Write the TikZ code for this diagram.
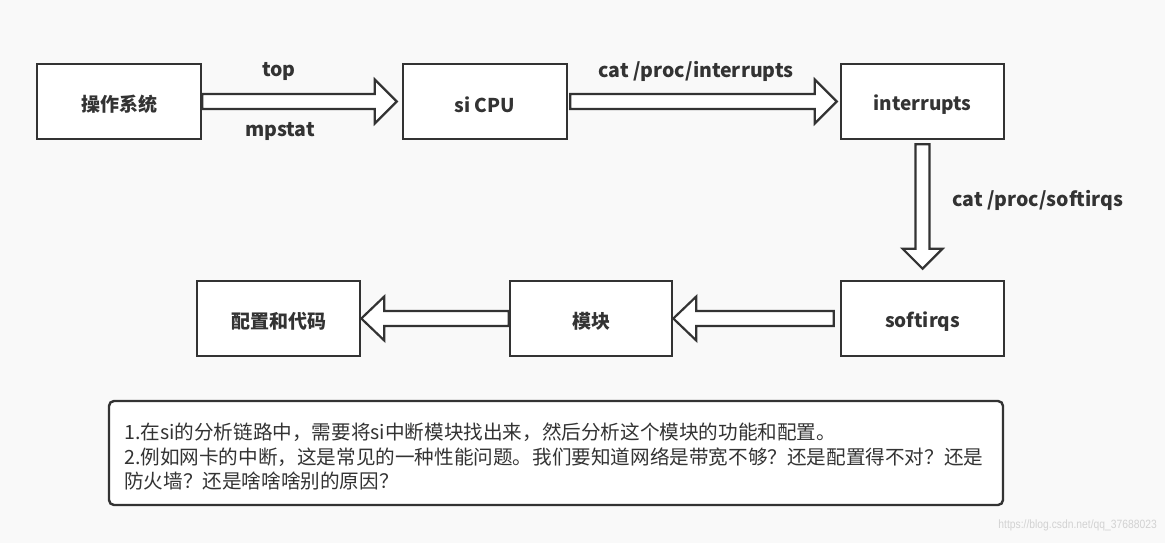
\documentclass[tikz,border=0pt]{standalone}
\usepackage{fontspec}
\setmainfont{Noto Sans CJK SC}
\newfontfamily\wmfont{Liberation Sans}
\usetikzlibrary{calc}
\definecolor{bg}{HTML}{F9F9F9}
\definecolor{ink}{HTML}{333333}
\definecolor{wm}{HTML}{D2D2D2}
\newcommand\lowered[1]{\raisebox{-3pt}[\height][\depth]{#1}}
\tikzset{
  box/.style={draw=ink, line width=2.6pt, fill=white, minimum width=163pt, minimum height=75pt, inner sep=0pt, font=\fontsize{19}{21}\selectfont\bfseries, text=ink},
  blk/.style={draw=ink, line width=2.2pt, fill=white, line join=miter},
  lbl/.style={font=\fontsize{19.5}{21}\selectfont\bfseries, text=ink, inner sep=0pt},
  notebox/.style={draw=ink, line width=2.4pt, fill=white, rounded corners=5pt, inner sep=0pt},
}
\newcommand\hollowR[2]{\draw[blk] let \p1=(#1),\p2=(#2) in
  (\x1,\y1+7.5pt) -- (\x2-22pt,\y1+7.5pt) -- (\x2-22pt,\y1+22pt) -- (\x2,\y1)
  -- (\x2-22pt,\y1-22pt) -- (\x2-22pt,\y1-7.5pt) -- (\x1,\y1-7.5pt) -- cycle;}
\newcommand\hollowL[2]{\draw[blk] let \p1=(#1),\p2=(#2) in
  (\x1,\y1+7.5pt) -- (\x2+23pt,\y1+7.5pt) -- (\x2+23pt,\y1+22pt) -- (\x2,\y1)
  -- (\x2+23pt,\y1-22pt) -- (\x2+23pt,\y1-7.5pt) -- (\x1,\y1-7.5pt) -- cycle;}
\newcommand\hollowD[2]{\draw[blk] let \p1=(#1),\p2=(#2) in
  (\x1-7pt,\y1) -- (\x1-7pt,\y2+20pt) -- (\x1-20pt,\y2+20pt) -- (\x1,\y2)
  -- (\x1+20pt,\y2+20pt) -- (\x1+7pt,\y2+20pt) -- (\x1+7pt,\y1) -- cycle;}
\begin{document}
\begin{tikzpicture}[x=1pt,y=-1pt]
\fill[bg] (0,0) rectangle (1165,543);
\useasboundingbox (0,0) rectangle (1165,543);

\node[box, minimum width=164pt] (os) at (119,101.5) {\lowered{操作系统}};
\node[box, minimum width=164pt] (cpu) at (485,101.5) {\lowered{si CPU}};
\node[box] (intr) at (922.5,101.5) {\lowered{interrupts}};
\node[box] (soft) at (922.5,318.5) {\lowered{softirqs}};
\node[box, minimum width=162pt] (mod) at (591,318.5) {\lowered{模块}};
\node[box] (cfg) at (278.5,318.5) {\lowered{配置和代码}};

\coordinate (a1s) at (os.east);
\coordinate (a1t) at ([xshift=-5pt]cpu.west);
\coordinate (a2s) at ([xshift=2pt]cpu.east);
\coordinate (a2t) at ([xshift=-3pt]intr.west);
\coordinate (a3s) at ([yshift=-4pt]intr.south);
\coordinate (a3t) at ([yshift=11pt]soft.north);
\coordinate (a4s) at ([xshift=-6pt]soft.west);
\coordinate (a4t) at (mod.east);
\coordinate (a5s) at (mod.west);
\coordinate (a5t) at (cfg.east);

\hollowR{a1s}{a1t}
\hollowR{a2s}{a2t}
\hollowD{a3s}{a3t}
\hollowL{a4s}{a4t}
\hollowL{a5s}{a5t}

\node[lbl] (l1) at (279,71) {top};
\node[lbl] (l2) at (280,131) {mpstat};
\node[lbl] (l3) at (696,71) {cat /proc/interrupts};
\node[lbl] (l4) at (1038,200) {cat /proc/softirqs};

\node[notebox, minimum width=894pt, minimum height=104pt] (note) at (556,453) {};
\node[anchor=north west, align=left, inner sep=0pt, text=ink,
  font=\fontsize{19.6}{24.2}\selectfont] (notetext) at (124,423)
  {1.在si的分析链路中，需要将si中断模块找出来，然后分析这个模块的功能和配置。\\
   2.例如网卡的中断，这是常见的一种性能问题。我们要知道网络是带宽不够？还是配置得不对？还是\\
   防火墙？还是啥啥啥别的原因？};

\node[text=wm, font=\wmfont\fontsize{12}{14}\selectfont, xscale=0.86, anchor=east, inner sep=0pt] (wmk) at (1157,525) {https://blog.csdn.net/qq\_37688023};
\end{tikzpicture}
\end{document}
